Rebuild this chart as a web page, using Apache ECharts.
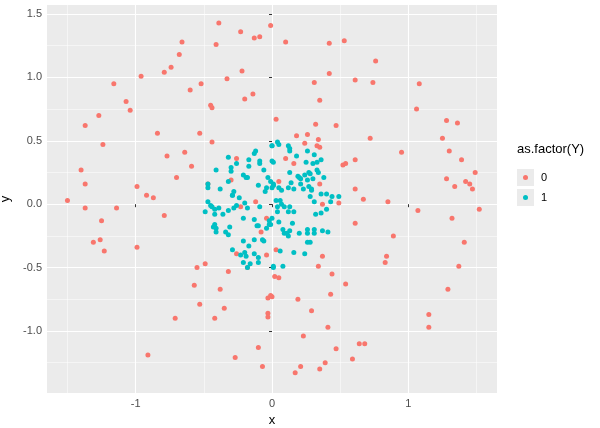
<!DOCTYPE html>
<html><head><meta charset="utf-8">
<script src="https://cdn.jsdelivr.net/npm/echarts@6/dist/echarts.min.js"></script>
<style>html,body{margin:0;padding:0;background:#fff}#c{width:600px;height:428px}</style>
</head><body><div id="c"></div>
<script>
const xTicks = [-1, 0, 1];
const yTicks = [-1.0, -0.5, 0.0, 0.5, 1.0, 1.5];
const xMinor = [-1.5, -0.5, 0.5, 1.5];
const yMinor = [-1.25, -0.75, -0.25, 0.25, 0.75, 1.25];
const group0 = [
[-0.39,1.43],[-0.23,1.36],[-0.13,1.31],[-0.09,1.32],[-0.01,1.41],[-0.66,1.28],[-0.41,1.26],[-0.68,1.18],[-0.74,1.08],[-0.79,1.04],
[-0.96,1.01],[-0.22,1.05],[-0.33,0.99],[-0.52,0.95],[-0.60,0.90],[-0.14,0.87],[-0.20,0.83],[-1.16,0.95],[-1.07,0.81],[-1.04,0.74],
[-1.27,0.70],[-1.37,0.62],[-0.45,0.78],[-0.44,0.76],[-0.84,0.56],[-0.53,0.56],[-0.44,0.49],[-1.24,0.47],[-0.64,0.41],[-0.77,0.38],
[-0.59,0.30],[-0.26,0.36],[-1.40,0.27],[-0.70,0.21],[-1.37,0.16],[-0.99,0.14],[-0.92,0.07],[-0.87,0.05],[-1.50,0.03],[-0.47,0.16],
[-0.30,0.19],[-0.12,0.02],
[0.10,1.28],[0.42,1.27],[0.53,1.29],[0.76,1.13],[0.42,1.03],[0.31,0.96],[0.61,0.98],[0.74,0.96],[1.08,0.95],[0.35,0.82],
[1.06,0.75],[0.03,0.67],[0.32,0.63],[0.47,0.62],[1.28,0.66],[1.36,0.64],[0.18,0.54],[0.26,0.55],[0.34,0.51],[0.24,0.48],
[0.33,0.46],[0.35,0.45],[0.72,0.52],[1.25,0.52],[1.30,0.42],[0.95,0.41],[0.10,0.36],[0.16,0.32],[0.52,0.31],[0.54,0.32],
[0.61,0.35],[1.39,0.35],[1.49,0.25],[1.28,0.20],[1.42,0.18],[1.45,0.16],[1.34,0.14],[1.47,0.12],[0.05,0.18],[0.35,0.16],
[0.61,0.12],[0.67,0.04],[0.85,0.02],[0.37,0.00],[0.49,0.01],
[-1.37,-0.03],[-1.14,-0.03],[-0.79,-0.09],[-1.25,-0.13],[-1.31,-0.30],[-1.26,-0.28],[-1.23,-0.37],[-0.99,-0.34],[-0.23,-0.02],[-0.04,-0.11],
[-0.08,-0.22],[-0.04,-0.40],[-0.26,-0.39],[-0.18,-0.50],[-0.49,-0.47],[-0.55,-0.50],[-0.32,-0.53],[-0.57,-0.64],[-0.38,-0.67],[-0.03,-0.74],
[-0.01,-0.72],[-0.53,-0.79],[-0.35,-0.82],[-0.71,-0.90],[-0.42,-0.90],[-0.03,-0.86],[-0.03,-0.89],[-0.10,-1.13],[-0.91,-1.19],[-0.27,-1.21],
[-0.07,-1.28],
[1.07,-0.05],[1.52,-0.04],[1.32,-0.11],[0.61,-0.15],[0.89,-0.25],[1.41,-0.30],[0.03,-0.36],[0.37,-0.41],[0.34,-0.49],[0.84,-0.41],
[0.83,-0.46],[1.37,-0.49],[0.02,-0.57],[0.05,-0.58],[0.44,-0.55],[0.54,-0.63],[0.43,-0.71],[0.00,-0.73],[0.19,-0.75],[1.29,-0.67],
[0.29,-0.84],[1.15,-0.87],[1.15,-0.97],[0.41,-0.97],[0.23,-1.04],[0.64,-1.10],[0.68,-1.10],[0.47,-1.14],[0.59,-1.22],[0.39,-1.25],
[0.21,-1.28],[0.35,-1.30],[0.17,-1.33]
];
const group1 = [
[-0.32,0.37],[-0.12,0.42],[-0.13,0.40],[0.00,0.46],[-0.17,0.35],[-0.09,0.34],[-0.09,0.32],[-0.17,0.30],[-0.26,0.32],[-0.30,0.29],
[-0.41,0.27],[-0.06,0.27],[-0.30,0.26],[-0.21,0.23],[-0.19,0.21],[-0.03,0.21],[-0.18,0.21],[-0.32,0.18],[-0.47,0.16],[-0.47,0.13],
[-0.10,0.15],[-0.04,0.13],[-0.05,0.10],[-0.38,0.12],[0.01,0.16],[0.01,0.15],[-0.28,0.10],[-0.29,0.07],[-0.29,0.07],[-0.24,0.05],
[-0.47,0.02],[-0.45,-0.01],[-0.44,-0.02],[-0.20,0.01],[-0.39,-0.03],[-0.42,-0.04],[-0.09,-0.02],[-0.26,-0.01],[-0.28,-0.03],[-0.18,-0.03],
[-0.32,-0.05],[-0.36,-0.08],[-0.49,-0.06],[-0.42,-0.08],[-0.21,-0.11],[-0.13,-0.12],[0.00,-0.11],[-0.01,-0.16],[-0.11,-0.17],[-0.10,-0.17],
[-0.42,-0.16],[-0.43,-0.18],[-0.41,-0.19],[-0.31,-0.18],[-0.04,-0.19],[-0.41,-0.22],[-0.34,-0.22],[-0.32,-0.24],[-0.21,-0.29],[-0.13,-0.28],
[-0.17,-0.33],[-0.07,-0.28],[-0.06,-0.29],[-0.29,-0.36],[-0.20,-0.38],[-0.19,-0.41],[-0.13,-0.39],[-0.23,-0.40],[-0.21,-0.46],[-0.10,-0.42],
[-0.16,-0.47],[-0.10,-0.46],[-0.18,-0.50],[0.01,-0.50],
[0.04,0.49],[0.05,0.47],[0.00,0.46],[0.12,0.46],[0.13,0.44],[0.13,0.42],[0.26,0.42],[0.31,0.39],[0.18,0.38],[0.00,0.34],
[0.01,0.33],[0.25,0.33],[0.33,0.33],[0.36,0.35],[0.30,0.32],[0.13,0.25],[0.27,0.25],[0.33,0.27],[0.34,0.25],[0.19,0.22],
[0.20,0.21],[0.24,0.23],[0.21,0.20],[0.28,0.24],[0.30,0.20],[0.26,0.19],[0.38,0.21],[-0.01,0.18],[0.14,0.17],[0.12,0.13],
[0.01,0.15],[0.00,0.13],[0.05,0.13],[0.07,0.11],[0.21,0.16],[0.16,0.12],[0.23,0.12],[0.27,0.14],[0.29,0.12],[0.29,0.11],
[0.03,0.03],[0.07,0.00],[0.04,-0.02],[0.09,-0.02],[0.13,-0.02],[0.28,0.06],[0.36,0.08],[0.40,0.08],[0.44,0.06],[0.49,0.06],
[0.31,0.02],[0.43,0.02],[0.32,-0.08],[0.36,-0.07],[0.40,-0.04],[0.06,0.03],[0.04,-0.06],[0.12,-0.06],[0.16,-0.06],[-0.02,-0.13],
[-0.02,-0.16],[0.05,-0.14],[0.15,-0.15],[0.08,-0.20],[0.09,-0.23],[0.11,-0.23],[0.13,-0.21],[0.12,-0.25],[0.20,-0.23],[0.26,-0.20],
[0.26,-0.23],[0.31,-0.20],[0.31,-0.23],[0.37,-0.21],[0.41,-0.22],[0.26,-0.30],[0.28,-0.30],[0.06,-0.37],[0.16,-0.38],[0.24,-0.39],
[0.01,-0.49],[0.08,-0.49]
];
const col0 = '#F8766D', col1 = '#00BFC4';
const gridLines = [];
xTicks.forEach(v => gridLines.push({xAxis: v, lineStyle: {width: 1.1}}));
xMinor.forEach(v => gridLines.push({xAxis: v, lineStyle: {width: 0.5}}));
yTicks.forEach(v => gridLines.push({yAxis: v, lineStyle: {width: 1.1}}));
yMinor.forEach(v => gridLines.push({yAxis: v, lineStyle: {width: 0.5}}));
const chart = echarts.init(document.getElementById('c'), null, {renderer: 'canvas'});
const labelStyle = {color: '#4D4D4D', fontSize: 11, fontFamily: 'Liberation Sans', margin: 5};
const nameStyle = {fontSize: 13, color: '#000', fontFamily: 'Liberation Sans'};
chart.setOption({
  animation: false,
  backgroundColor: '#fff',
  grid: {left: 47, right: 103, top: 5, bottom: 35, show: true, backgroundColor: '#EBEBEB', borderWidth: 0,
         containLabel: false, outerBoundsMode: 'none'},
  xAxis: {
    type: 'value', min: -1.65, max: 1.65,
    axisLine: {show: false}, splitLine: {show: false},
    axisTick: {show: true, length: 3, customValues: xTicks, lineStyle: {color: '#333'}},
    axisLabel: Object.assign({customValues: xTicks}, labelStyle),
    name: 'x', nameLocation: 'middle', nameGap: 19, nameTextStyle: nameStyle
  },
  yAxis: {
    type: 'value', min: -1.489, max: 1.571,
    axisLine: {show: false}, splitLine: {show: false},
    axisTick: {show: true, length: 3, customValues: yTicks, lineStyle: {color: '#333'}},
    axisLabel: Object.assign({customValues: yTicks, formatter: v => v.toFixed(1)}, labelStyle),
    name: 'y', nameLocation: 'middle', nameGap: 34, nameRotate: 90, nameTextStyle: nameStyle
  },
  series: [
    {type: 'scatter', data: [], silent: true, z: 0, zlevel: 0,
     markLine: {silent: true, z: 0, symbol: 'none', label: {show: false}, lineStyle: {color: '#fff', type: 'solid'}, data: gridLines, animation: false}},
    {type: 'scatter', name: '0', data: group0, symbolSize: 5, z: 5, itemStyle: {color: col0, opacity: 1}},
    {type: 'scatter', name: '1', data: group1, symbolSize: 5, z: 5, itemStyle: {color: col1, opacity: 1}}
  ],
  graphic: [
    {type: 'text', left: 517, top: 143, style: {text: 'as.factor(Y)', fontSize: 13, fill: '#000', fontFamily: 'Liberation Sans'}},
    {type: 'rect', left: 517, top: 169, shape: {width: 17, height: 17}, style: {fill: '#EBEBEB'}},
    {type: 'rect', left: 517, top: 189, shape: {width: 17, height: 17}, style: {fill: '#EBEBEB'}},
    {type: 'circle', shape: {cx: 525.5, cy: 177.5, r: 2.5}, style: {fill: col0}},
    {type: 'circle', shape: {cx: 525.5, cy: 197.5, r: 2.5}, style: {fill: col1}},
    {type: 'text', left: 541, top: 172, style: {text: '0', fontSize: 11, fill: '#000', fontFamily: 'Liberation Sans'}},
    {type: 'text', left: 541, top: 192, style: {text: '1', fontSize: 11, fill: '#000', fontFamily: 'Liberation Sans'}}
  ]
});
</script></body></html>
